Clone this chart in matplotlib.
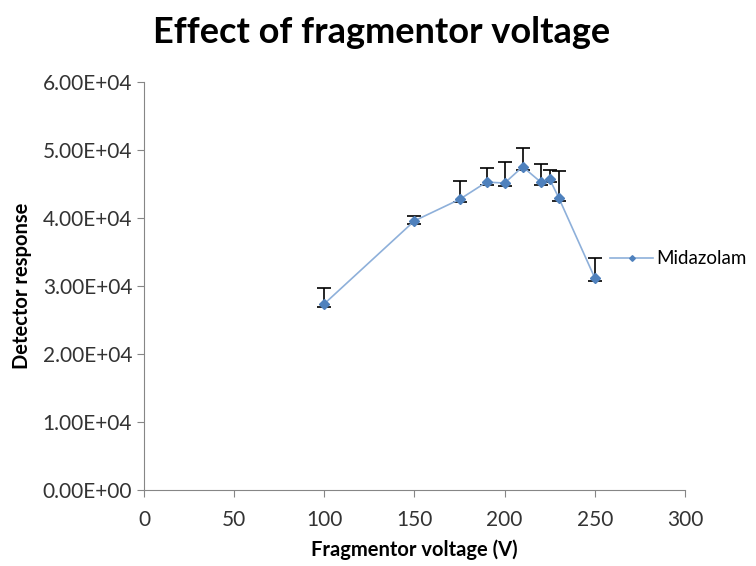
import numpy as np
import matplotlib.pyplot as plt
from matplotlib.ticker import FuncFormatter

plt.rcParams['font.family'] = ['Lato', 'DejaVu Sans']

# fragmentor voltage (V) and detector response
voltage = [100, 150, 175, 190, 200, 210, 220, 225, 230, 250]
response = [27400, 39600, 42750, 45300, 45150, 47550, 45300, 45700, 43000, 31200]
err_plus = [2300, 700, 2750, 2100, 3100, 2750, 2600, 1400, 3950, 3000]
err_minus = [450, 450, 450, 450, 450, 450, 450, 450, 450, 450]

fig = plt.figure(figsize=(7.56, 5.66), dpi=100)
ax = fig.add_axes([0.1905, 0.134, 0.7155, 0.721])

ax.errorbar(voltage, response, yerr=[err_minus, err_plus],
            fmt='none', ecolor='black', elinewidth=1.2, capsize=5, capthick=1.2, zorder=2)
ax.plot(voltage, response, color='#8EB0DA', linewidth=1.2, marker='D',
        markersize=4.8, markerfacecolor='#4F81BD', markeredgecolor='#4F81BD',
        label='Midazolam', zorder=3)

ax.set_xlim(0, 300)
ax.set_ylim(0, 60000)
ax.set_xticks(range(0, 301, 50))
ax.set_yticks(range(0, 60001, 10000))
ax.yaxis.set_major_formatter(FuncFormatter(
    lambda v, p: '%.2fE+%02d' % (v / 1e4, 4) if v else '0.00E+00'))

for s in ['top', 'right']:
    ax.spines[s].set_visible(False)
for s in ['left', 'bottom']:
    ax.spines[s].set_color('#868686')
ax.tick_params(colors='#868686', labelcolor='#333333', labelsize=15, length=5, direction='out')
ax.tick_params(axis='x', pad=9)

ax.set_xlabel('Fragmentor voltage (V)', fontsize=14.5, fontweight='bold', labelpad=7)
ax.set_ylabel('Detector response', fontsize=14.5, fontweight='bold', labelpad=8)
fig.suptitle('Effect of fragmentor voltage', fontsize=26, fontweight='bold', x=0.505, y=0.972)

leg = fig.legend(loc='center left', bbox_to_anchor=(0.785, 0.543), frameon=False,
                 fontsize=13.5, markerscale=0.6, handlelength=2.3, handletextpad=0.15)

plt.savefig('out.png', dpi=100)
